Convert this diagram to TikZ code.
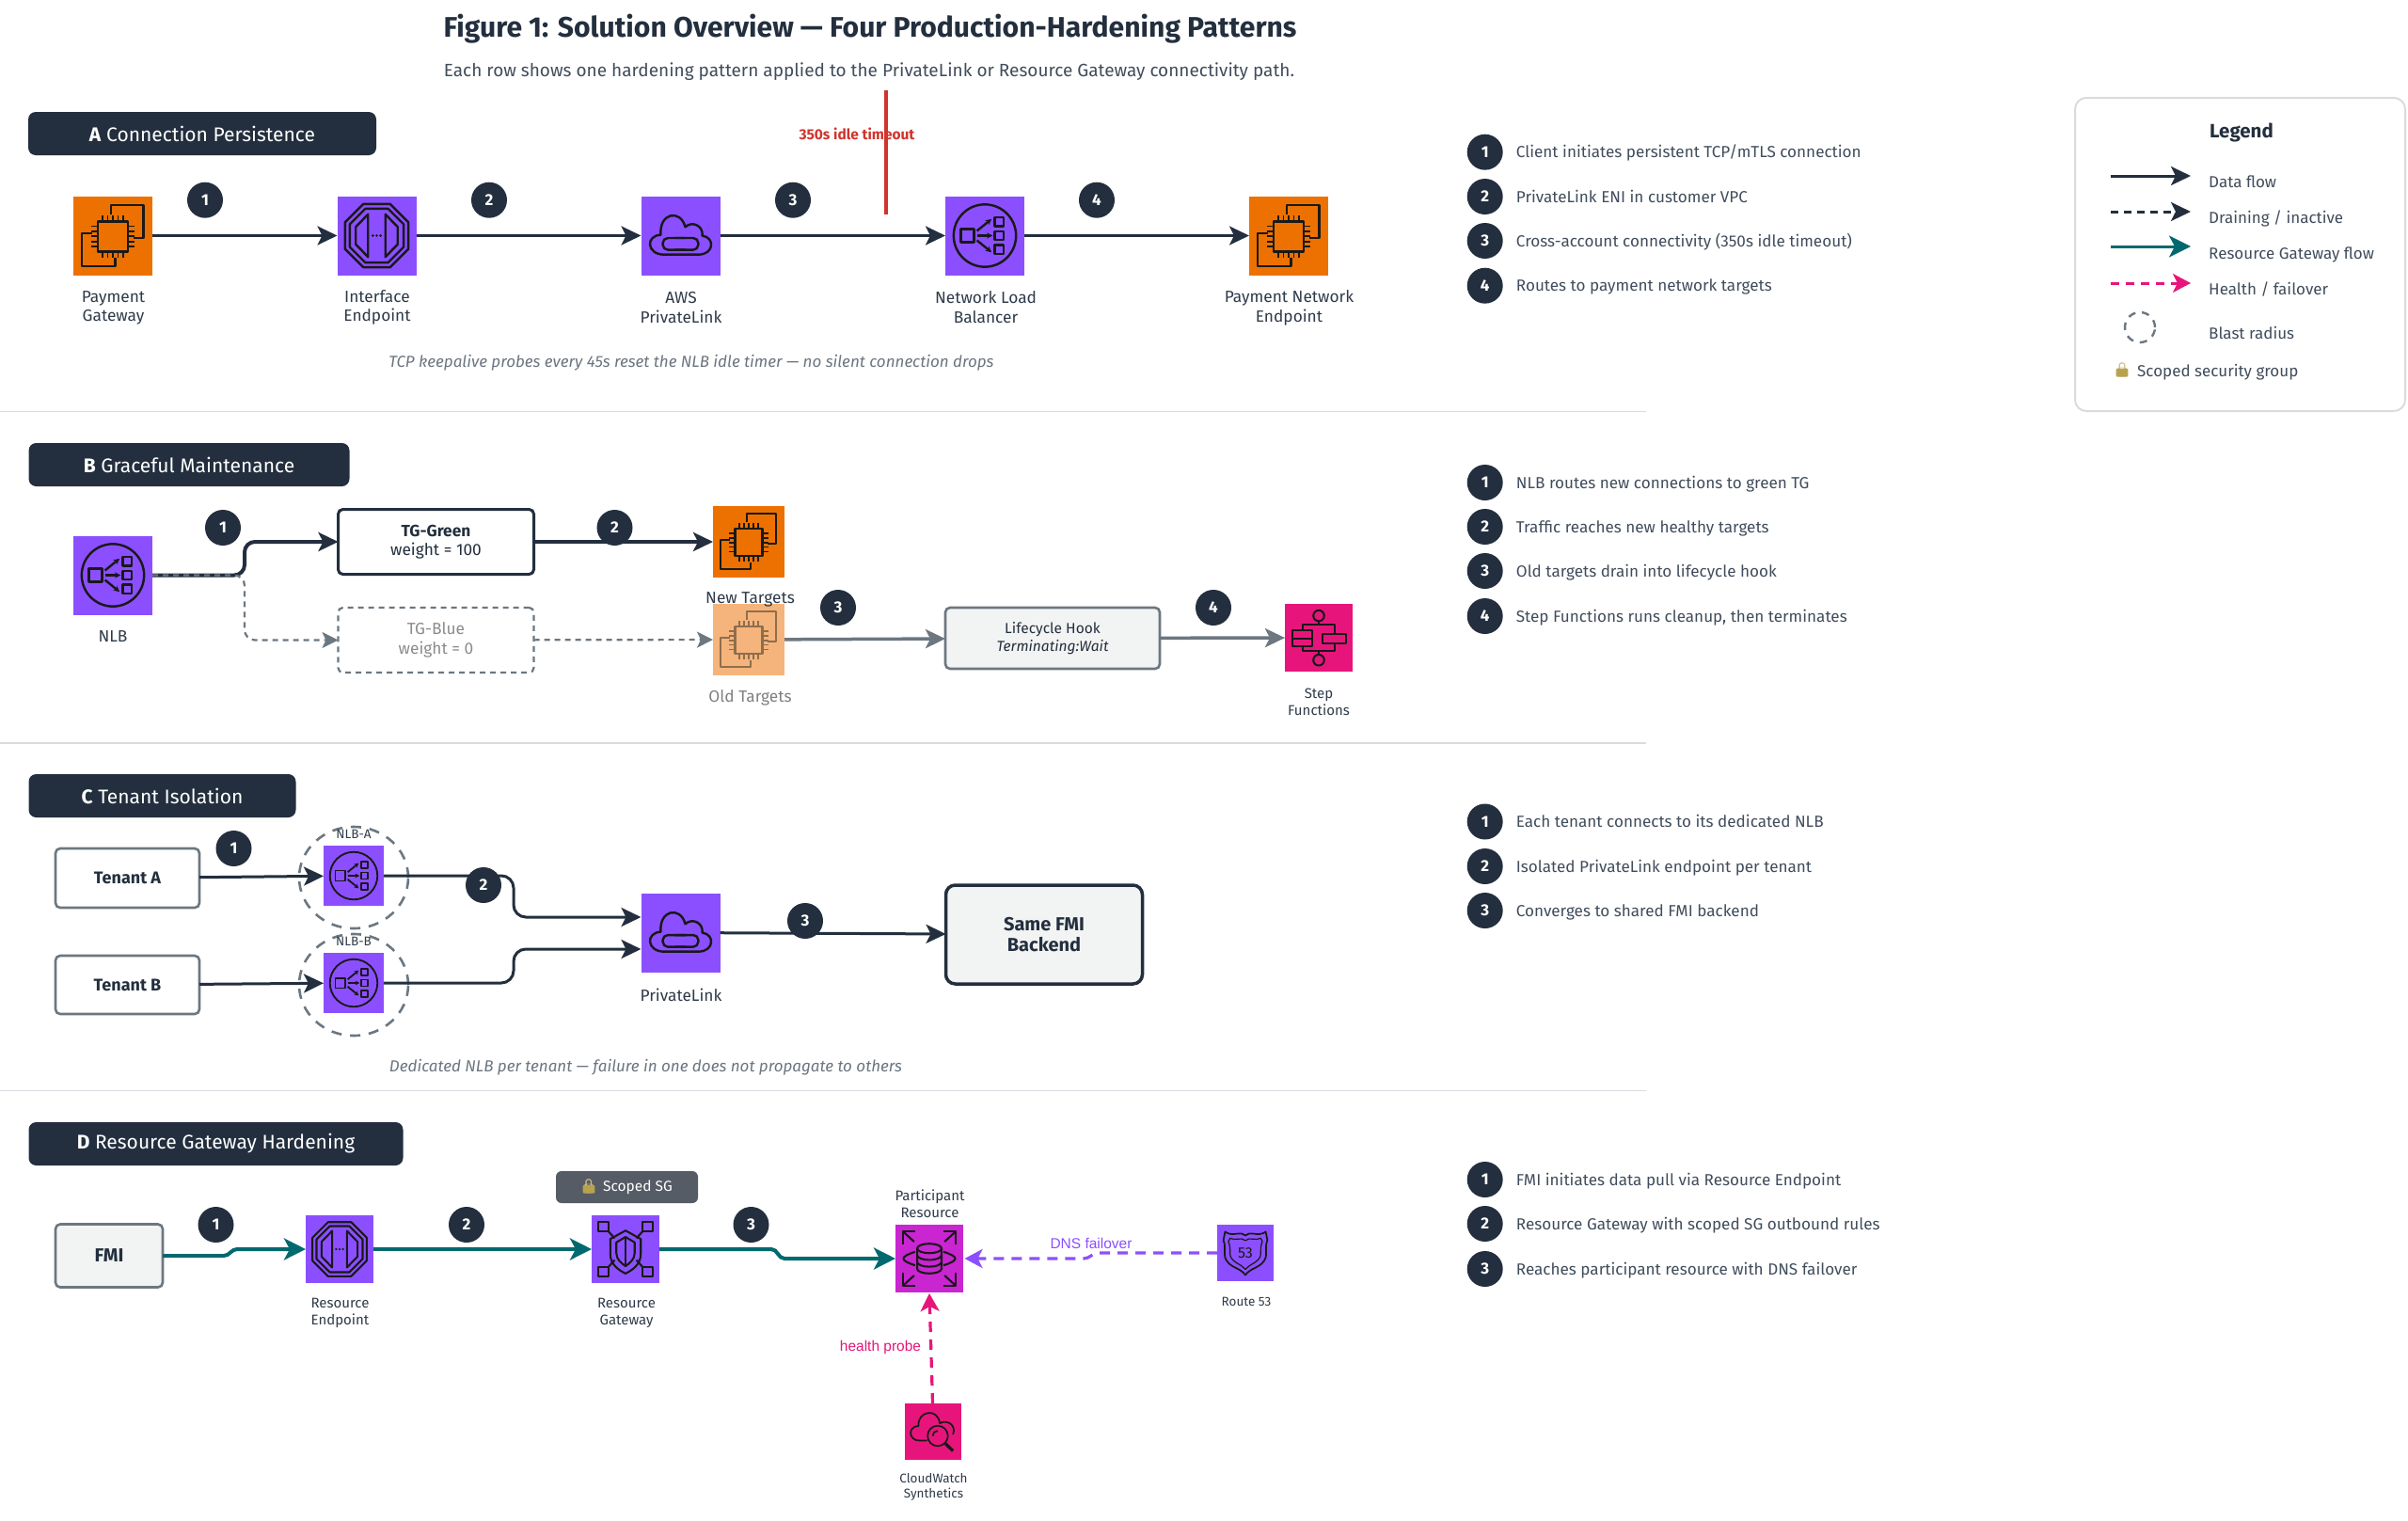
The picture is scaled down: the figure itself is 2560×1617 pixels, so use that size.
\documentclass[tikz,border=0pt]{standalone}
\usepackage{fontspec}
\setmainfont{Fira Sans}
\newfontfamily\emojifont{Noto Emoji}
\newfontfamily\helv{Liberation Sans}
\usetikzlibrary{arrows.meta,calc,shapes.geometric}
\definecolor{navy}{HTML}{232F3E}
\definecolor{awsorange}{HTML}{ED7100}
\definecolor{awspurple}{HTML}{8C4FFF}
\definecolor{awspink}{HTML}{E7157B}
\definecolor{awsmag}{HTML}{C925D1}
\definecolor{oldorange}{HTML}{F5B47C}
\definecolor{oldglyph}{HTML}{8F6E4C}
\definecolor{teal2}{HTML}{00696F}
\definecolor{txt}{HTML}{414D5C}
\definecolor{greyline}{HTML}{6C7780}
\definecolor{sep}{HTML}{D8DCE0}
\definecolor{boxfill}{HTML}{F2F3F3}
\definecolor{redline}{HTML}{D0342C}
\definecolor{capt}{HTML}{6B7580}
\definecolor{lockc}{HTML}{B9A24E}
\definecolor{sgfill}{HTML}{555C65}
\colorlet{glyphc}{black!90}
\newcommand{\fs}[2]{\fontsize{#1}{#2}\selectfont}
% ---------- icon glyphs, in a unit square with y downwards
\newcommand{\glec}{%
  \draw (-0.38,-0.36) rectangle (0.38,0.40);
  \foreach \t in {-0.26,-0.13,0,0.13,0.26}{
    \draw[line width=0.7*\lwv pt] (\t,-0.36) -- (\t,-0.52);
    \draw[line width=0.7*\lwv pt] (\t,0.40) -- (\t,0.56);
    \draw[line width=0.7*\lwv pt] (-0.38,\t+0.02) -- (-0.54,\t+0.02);
    \draw[line width=0.7*\lwv pt] (0.38,\t+0.02) -- (0.54,\t+0.02);}
  \draw (-0.05,-0.54) -- (-0.05,-0.78) -- (0.77,-0.78) -- (0.77,0.06) -- (0.53,0.06);
  \draw (-0.53,-0.06) -- (-0.79,-0.06) -- (-0.79,0.77) -- (0.06,0.77) -- (0.06,0.57);
}
\newcommand{\glep}{%
  \draw (-0.34,-0.8) -- (0.34,-0.8) -- (0.8,-0.34) -- (0.8,0.34) -- (0.34,0.8) -- (-0.34,0.8) -- (-0.8,0.34) -- (-0.8,-0.34) -- cycle;
  \draw (-0.29,-0.68) -- (0.29,-0.68) -- (0.68,-0.29) -- (0.68,0.29) -- (0.29,0.68) -- (-0.29,0.68) -- (-0.68,0.29) -- (-0.68,-0.29) -- cycle;
  \draw (-0.22,-0.54) -- (-0.22,0.54) -- (-0.53,0.22) -- (-0.53,-0.22) -- cycle;
  \draw (0.22,-0.54) -- (0.22,0.54) -- (0.53,0.22) -- (0.53,-0.22) -- cycle;
  \foreach \t in {-0.1,0,0.1}{\fill (\t,0) circle[radius=0.035];}
}
\newcommand{\glpl}{%
  \draw (-0.42,0.48) .. controls (-0.85,0.48) and (-0.9,0.0) .. (-0.5,-0.02)
    .. controls (-0.55,-0.58) and (0.0,-0.68) .. (0.12,-0.22)
    .. controls (0.3,-0.38) and (0.58,-0.25) .. (0.55,0.0)
    .. controls (0.88,0.05) and (0.85,0.48) .. (0.45,0.48) -- cycle;
  \draw[rounded corners=\rcv pt] (0.14,0.06) -- (-0.45,0.06) -- (-0.45,0.36) -- (0.14,0.36);
  \draw[rounded corners=\rcv pt] (-0.14,0.06) -- (0.45,0.06) -- (0.45,0.36) -- (-0.14,0.36);
}
\newcommand{\glnlb}{%
  \draw (0,0) circle[radius=0.79];
  \draw (-0.61,-0.17) rectangle (-0.27,0.17);
  \draw (0.25,-0.46) rectangle (0.47,-0.24);
  \draw (0.25,-0.11) rectangle (0.47,0.11);
  \draw (0.25,0.24) rectangle (0.47,0.46);
  \begin{scope}[>={Stealth[length=0pt 2.6 0,width=0pt 2.6 0]}]
  \draw[->] (-0.2,0) -- (0.2,0);
  \draw[->] (-0.2,-0.12) -- (0.17,-0.42);
  \draw[->] (-0.2,0.12) -- (0.17,0.42);
  \end{scope}
}
\newcommand{\glrg}{%
  \foreach \sx in {-1,1}{\foreach \sy in {-1,1}{
    \draw (\sx*0.5,\sy*0.52) rectangle (\sx*0.8,\sy*0.8);
    \draw (\sx*0.5,\sy*0.52) -- (\sx*0.32,\sy*0.32);}}
  \draw (0,-0.55) -- (0.45,-0.3) -- (0.45,0.15) .. controls (0.45,0.45) and (0.2,0.62) .. (0,0.72) .. controls (-0.2,0.62) and (-0.45,0.45) .. (-0.45,0.15) -- (-0.45,-0.3) -- cycle;
  \draw (0,-0.36) -- (0.27,-0.2) -- (0.27,0.12) .. controls (0.27,0.3) and (0.12,0.42) .. (0,0.5) .. controls (-0.12,0.42) and (-0.27,0.3) .. (-0.27,0.12) -- (-0.27,-0.2) -- cycle;
  \draw (0,-0.36) -- (0,0.5);
}
\newcommand{\glrds}{%
  \draw (-0.36,-0.3) -- (-0.36,0.3) arc[start angle=180,end angle=0,x radius=0.36,y radius=0.14] -- (0.36,-0.3);
  \draw (0,-0.3) ellipse[x radius=0.36,y radius=0.14];
  \draw (-0.36,-0.1) arc[start angle=180,end angle=0,x radius=0.36,y radius=0.14];
  \draw (-0.36,0.1) arc[start angle=180,end angle=0,x radius=0.36,y radius=0.14];
  \draw (-0.42,-0.2) .. controls (-0.88,-0.05) and (-0.88,0.05) .. (-0.42,0.2);
  \draw (0.42,-0.2) .. controls (0.88,-0.05) and (0.88,0.05) .. (0.42,0.2);
  \foreach \sx in {-1,1}{\foreach \sy in {-1,1}{
    \draw (\sx*0.45,\sy*0.5) -- (\sx*0.78,\sy*0.8);
    \draw (\sx*0.78,\sy*0.42) -- (\sx*0.78,\sy*0.8) -- (\sx*0.42,\sy*0.8);}}
}
\newcommand{\glroute}{%
  \draw (0,-0.62) .. controls (0.15,-0.8) and (0.45,-0.55) .. (0.72,-0.75)
    -- (0.78,-0.45) .. controls (0.62,-0.1) and (0.95,0.2) .. (0.4,0.5) .. controls (0.2,0.6) and (0.1,0.65) .. (0,0.78)
    .. controls (-0.1,0.65) and (-0.2,0.6) .. (-0.4,0.5) .. controls (-0.95,0.2) and (-0.62,-0.1) .. (-0.78,-0.45)
    -- (-0.72,-0.75) .. controls (-0.45,-0.55) and (-0.15,-0.8) .. (0,-0.62) -- cycle;
  \draw[line width=0.7*\lwv pt] (0,-0.44) .. controls (0.15,-0.58) and (0.35,-0.42) .. (0.55,-0.52)
    -- (0.6,-0.4) .. controls (0.45,-0.05) and (0.7,0.12) .. (0.3,0.36) .. controls (0.15,0.44) and (0.08,0.5) .. (0,0.58)
    .. controls (-0.08,0.5) and (-0.15,0.44) .. (-0.3,0.36) .. controls (-0.7,0.12) and (-0.45,-0.05) .. (-0.6,-0.4)
    -- (-0.55,-0.52) .. controls (-0.35,-0.42) and (-0.15,-0.58) .. (0,-0.44) -- cycle;
}
\newcommand{\glsf}{%
  \draw (0,-0.65) circle[radius=0.16];
  \draw (0,0.66) circle[radius=0.16];
  \draw (0,-0.49) -- (0,-0.39);
  \draw (0,0.5) -- (0,0.4);
  \draw (-0.47,-0.21) -- (-0.47,-0.39) -- (0.47,-0.39) -- (0.47,-0.12);
  \draw (-0.47,0.24) -- (-0.47,0.4) -- (0.47,0.4) -- (0.47,0.16);
  \draw (-0.78,-0.21) rectangle (-0.19,0.03);
  \draw (-0.78,0.03) rectangle (-0.19,0.24);
  \draw (0.11,-0.12) rectangle (0.8,0.16);
}
\newcommand{\glcw}{%
  \draw (-0.2,0.32) -- (-0.45,0.32) .. controls (-0.88,0.32) and (-0.88,-0.2) .. (-0.5,-0.2)
    .. controls (-0.55,-0.75) and (0.2,-0.85) .. (0.25,-0.3) .. controls (0.55,-0.45) and (0.85,-0.2) .. (0.72,0.1);
  \draw (0.18,0.15) circle[radius=0.36];
  \draw (0.18,0.15) ++(-0.18,0) arc[start angle=180,end angle=270,radius=0.18];
  \draw[line width=1.9*\lwv pt] (0.45,0.42) -- (0.72,0.68);
}
\newcommand{\icon}[3]{%
  \begin{scope}[shift={(#2.center)},x=#3pt,y=-#3pt,draw=glyphc,fill=glyphc]
    \pgfmathsetmacro{\lwv}{#3*0.058}\pgfmathsetmacro{\rcv}{#3*0.13}
    \begin{scope}[line width=\lwv pt,line join=round]
    \csname gl#1\endcsname
    \end{scope}
  \end{scope}}
% padlock body laid under the emoji
\newcommand{\lockbody}[1]{%
  \fill[lockc,rounded corners=1pt] ($(#1.center)+(-6.3,-1.2)$) rectangle ($(#1.center)+(6.3,7.6)$);}
% list rows
\newcommand{\listrow}[4]{%
  \node[badge] (#1b) at (1578.7,#2) {#3};
  \node[listtext] (#1t) at (1611.7,#2+6) {#4};}
\tikzset{
  iconbox/.style={rectangle,inner sep=0pt,outer sep=0pt,minimum size=#1},
  iconbox/.default=84pt,
  badge/.style={circle,fill=navy,text=white,inner sep=0pt,outer sep=0pt,minimum size=38pt,font=\fs{17}{20}\bfseries},
  listtext/.style={anchor=base west,inner sep=0pt,text=txt,font=\fs{17.1}{21}},
  lbl/.style={inner sep=0pt,align=center,text=navy!60!txt,font=\fs{17.3}{20.5}},
  smlbl/.style={inner sep=0pt,align=center,text=navy!60!txt,font=\fs{15}{18}},
  tinylbl/.style={inner sep=0pt,align=center,text=navy!60!txt,font=\fs{13.5}{16.5}},
  caption/.style={inner sep=0pt,text=capt,font=\fs{17}{20}\itshape},
  legtext/.style={inner sep=0pt,anchor=base west,text=txt,font=\fs{17}{20}},
  header/.style={rectangle,rounded corners=8pt,fill=navy,text=white,inner sep=0pt,outer sep=0pt,minimum height=46pt,font=\fs{21}{24}},
  sepline/.style={draw=sep,line width=1.8pt},
  flow/.style={draw=navy,line width=3pt,-{Stealth[length=21pt,width=20pt,inset=5pt]}},
  thickflow/.style={flow,line width=4pt},
  greyflow/.style={draw=greyline,line width=3.5pt,-{Stealth[length=21pt,width=20pt,inset=5pt]}},
  inactive/.style={draw=greyline,line width=2.2pt,dash pattern=on 6pt off 5pt,-{Stealth[length=17pt,width=17pt,inset=4pt]}},
  tealflow/.style={draw=teal2,line width=4pt,-{Stealth[length=23pt,width=23pt,inset=6pt]}},
  dnsflow/.style={draw=awspurple,line width=3.2pt,dash pattern=on 11pt off 8pt,-{Stealth[length=19pt,width=20pt,inset=5pt]}},
  healthflow/.style={draw=awspink,line width=3.2pt,dash pattern=on 11pt off 8pt,-{Stealth[length=19pt,width=20pt,inset=5pt]}},
  blast/.style={ellipse,draw=greyline,line width=2.6pt,dash pattern=on 11pt off 9pt,inner sep=0pt,outer sep=0pt,minimum width=116pt,minimum height=108pt},
  solidbox/.style={rectangle,rounded corners=5pt,inner sep=0pt,outer sep=0pt,align=center,text=navy},
}
\begin{document}
\begin{tikzpicture}[x=1pt,y=-1pt]
\useasboundingbox (0,0) rectangle (2560,1617);
\fill[white] (0,0) rectangle (2560,1617);

% title
\node[inner sep=0pt,text=navy,font=\fs{30.1}{34}\bfseries] (title) at (925,31) {Figure 1: Solution Overview — Four Production-Hardening Patterns};
\node[inner sep=0pt,text=txt,font=\fs{19}{24}] (subtitle) at (924,76) {Each row shows one hardening pattern applied to the PrivateLink or Resource Gateway connectivity path.};

% separators
\coordinate (s1a) at (0,437.5); \coordinate (s1b) at (1750,437.5);
\coordinate (s2a) at (0,790);   \coordinate (s2b) at (1750,790);
\coordinate (s3a) at (0,1159.5);\coordinate (s3b) at (1750,1159.5);
\draw[sepline] (s1a) -- (s1b);
\draw[sepline] (s2a) -- (s2b);
\draw[sepline] (s3a) -- (s3b);

% ===== A =====
\node[header,minimum width=370pt] (ha) at (215,142) {\textbf{A} Connection Persistence};
\node[iconbox,fill=awsorange] (pg) at (120,250.5) {};
\node[iconbox,fill=awspurple] (ie) at (400.5,250.5) {};
\node[iconbox,fill=awspurple] (apl) at (723.5,250.5) {};
\node[iconbox,fill=awspurple] (anlb) at (1047,250.5) {};
\node[iconbox,fill=awsorange] (pne) at (1370,250.5) {};
\icon{ec}{pg}{42}\icon{ep}{ie}{42}\icon{pl}{apl}{42}\icon{nlb}{anlb}{42}\icon{ec}{pne}{42}
\node[lbl] (lpg) at (120.5,327.5) {Payment\\Gateway};
\node[lbl] (lie) at (401,327) {Interface\\Endpoint};
\node[lbl] (lapl) at (724,327) {AWS\\PrivateLink};
\node[lbl] (lanlb) at (1048,326.5) {Network Load\\Balancer};
\node[lbl] (lpne) at (1370.5,327.5) {Payment Network\\Endpoint};
\draw[flow] (pg) -- (ie);
\draw[flow] (ie) -- (apl);
\draw[flow] (apl) -- (anlb);
\draw[flow] (anlb) -- (pne);
\node[badge] (a1) at (218,212.7) {1};
\node[badge] (a2) at (520,212.7) {2};
\node[badge] (a3) at (843,212.7) {3};
\node[badge] (a4) at (1166,212.7) {4};
\node[inner sep=0pt,text=redline,font=\fs{15.5}{18}\bfseries] (idle) at (911,142) {350s idle timeout};
\coordinate (r1) at (942,96); \coordinate (r2) at (942,228);
\draw[draw=redline,line width=3.5pt] (r1) -- (r2);
\node[caption] (capa) at (735,385.5) {TCP keepalive probes every 45s reset the NLB idle timer — no silent connection drops};

% ===== B =====
\node[header,minimum width=341pt] (hb) at (201,494) {\textbf{B} Graceful Maintenance};
\node[iconbox,fill=awspurple] (bnlb) at (120,611.5) {};
\icon{nlb}{bnlb}{42}
\node[lbl] (lbnlb) at (120,677) {NLB};
\node[solidbox,draw=navy,line width=3pt,fill=white,minimum width=208pt,minimum height=69pt,font=\fs{17.3}{20.5}] (tgg) at (463.5,576) {\textbf{TG-Green}\\weight = 100};
\node[solidbox,draw=greyline,line width=2.2pt,dash pattern=on 6pt off 5pt,fill=white,minimum width=208pt,minimum height=69pt,text=black!45,font=\fs{17.3}{20.5}] (tgb) at (463.5,680.5) {TG-Blue\\weight = 0};
\node[iconbox=76pt,fill=awsorange] (newt) at (796,576) {};
\node[iconbox=76pt,fill=oldorange] (oldt) at (796,680) {};
\icon{ec}{newt}{38}
\colorlet{glyphc}{oldglyph}
\icon{ec}{oldt}{38}
\colorlet{glyphc}{black!90}
\node[lbl] (lnewt) at (797.5,637) {New Targets};
\node[lbl,text=black!50] (loldt) at (797.5,742) {Old Targets};
\node[solidbox,draw=greyline,line width=2.6pt,fill=boxfill,minimum width=228pt,minimum height=65pt,font=\fs{15.5}{18.5}] (lh) at (1119,678.5) {Lifecycle Hook\\\textit{Terminating:Wait}};
\node[iconbox=72pt,fill=awspink] (sf) at (1402,678) {};
\icon{sf}{sf}{36}
\node[smlbl] (lsf) at (1402,746) {Step\\Functions};
\coordinate (eb) at (260,600);
\draw[thickflow,rounded corners=11pt] (bnlb.east) -| (eb|-tgg.west) -- (tgg.west);
\draw[inactive,rounded corners=11pt] (bnlb.east) -| (eb|-tgb.west) -- (tgb.west);
\draw[thickflow] (tgg) -- (newt);
\draw[inactive] (tgb) -- (oldt);
\draw[greyflow] (oldt) -- (lh);
\draw[greyflow] (lh) -- (sf);
\node[badge] (b1) at (237,561) {1};
\node[badge] (b2) at (653.5,561) {2};
\node[badge] (b3) at (891,646) {3};
\node[badge] (b4) at (1290,646) {4};

% ===== C =====
\node[header,minimum width=284pt] (hc) at (172.5,846) {\textbf{C} Tenant Isolation};
\node[solidbox,draw=greyline,line width=2.6pt,fill=white,minimum width=153pt,minimum height=63pt,font=\fs{18}{21}\bfseries] (ta) at (135.5,933.5) {Tenant A};
\node[solidbox,draw=greyline,line width=2.6pt,fill=white,minimum width=153pt,minimum height=62pt,font=\fs{18}{21}\bfseries] (tb) at (135.5,1047) {Tenant B};
\node[blast] (ba) at (376,933) {};
\node[blast] (bb) at (376,1047) {};
\node[iconbox=64pt,fill=awspurple] (na) at (376,931) {};
\node[iconbox=64pt,fill=awspurple] (nb) at (376,1045) {};
\icon{nlb}{na}{32}\icon{nlb}{nb}{32}
\node[tinylbl] (lna) at (376,887) {NLB-A};
\node[tinylbl] (lnb) at (376,1001) {NLB-B};
\node[iconbox,fill=awspurple] (cpl) at (723.5,991.5) {};
\icon{pl}{cpl}{42}
\node[lbl] (lcpl) at (724,1058) {PrivateLink};
\node[solidbox,rounded corners=10pt,draw=navy,line width=3.5pt,fill=boxfill,minimum width=209pt,minimum height=105pt,font=\fs{20}{22.5}\bfseries] (fmib) at (1110,993.5) {Same FMI\\Backend};
\coordinate (ec) at (546,990);
\coordinate (pa) at ($(cpl.west)+(0,-16.5)$);
\coordinate (pb) at ($(cpl.west)+(0,17.5)$);
\draw[flow] (ta) -- (na);
\draw[flow] (tb) -- (nb);
\draw[flow,rounded corners=13pt] (na.east) -| (ec|-pa) -- (pa);
\draw[flow,rounded corners=13pt] (nb.east) -| (ec|-pb) -- (pb);
\draw[flow] (cpl) -- (fmib);
\node[badge] (c1) at (248.5,902) {1};
\node[badge] (c2) at (514,941) {2};
\node[badge] (c3) at (856,979) {3};
\node[caption] (capc) at (686.5,1135) {Dedicated NLB per tenant — failure in one does not propagate to others};

% ===== D =====
\node[header,minimum width=398pt] (hd) at (229.5,1216) {\textbf{D} Resource Gateway Hardening};
\node[solidbox,draw=greyline,line width=2.6pt,fill=boxfill,minimum width=114pt,minimum height=67pt,font=\fs{20}{23}\bfseries] (fmi) at (116,1335) {FMI};
\node[iconbox=72pt,fill=awspurple] (re) at (361,1328) {};
\node[iconbox=72pt,fill=awspurple] (rg) at (665,1328) {};
\node[iconbox=72pt,fill=awsmag] (part) at (988,1338) {};
\node[iconbox=60pt,fill=awspurple] (r53) at (1324,1332) {};
\node[iconbox=60pt,fill=awspink] (cw) at (991.5,1522) {};
\icon{ep}{re}{36}\icon{rg}{rg}{36}\icon{rds}{part}{36}\icon{route}{r53}{30}\icon{cw}{cw}{30}
\node[inner sep=0pt,text=glyphc,font=\fs{16}{18}] (n53) at (r53.center) {53};
\node[smlbl] (lre) at (361.5,1396) {Resource\\Endpoint};
\node[smlbl] (lrg) at (666,1396) {Resource\\Gateway};
\node[smlbl] (lpart) at (988.5,1280) {Participant\\Resource};
\node[tinylbl] (lr53) at (1325,1384) {Route 53};
\node[tinylbl] (lcw) at (992.5,1581) {CloudWatch\\Synthetics};
\node[rectangle,rounded corners=6pt,fill=sgfill,inner sep=0pt,outer sep=0pt,minimum width=151pt,minimum height=34pt] (ssg) at (666.5,1262) {};
\node[inner sep=0pt,text=lockc!70!white,font=\emojifont\fs{15}{18}] (ssgl) at (626,1261) {🔒};
\begin{scope}[on background layer/.style={}]
\lockbody{ssgl}
\end{scope}
\node[inner sep=0pt,text=white,font=\fs{15.5}{18}] (ssgt) at (678,1262) {Scoped SG};
\coordinate (ed1a) at (238,1330); \coordinate (ed1b) at (252,1330);
\coordinate (ed2a) at (820,1330); \coordinate (ed2b) at (834,1330);
\coordinate (ed3a) at (1168,1335); \coordinate (ed3b) at (1152,1335);
\draw[tealflow] (fmi.east) -- (ed1a|-fmi.east) to[out=0,in=180] (ed1b|-re.west) -- (re.west);
\draw[tealflow] (re) -- (rg);
\draw[tealflow] (rg.east) -- (ed2a|-rg.east) to[out=0,in=180] (ed2b|-part.west) -- (part.west);
\draw[dnsflow,shorten >=1.5pt] (r53.west) -- (ed3a|-r53.west) to[out=180,in=0] (ed3b|-part.east) -- (part.east);
\draw[healthflow,shorten >=1pt] (cw.north) -- (part.south);
\node[inner sep=0pt,text=awspurple,font=\helv\fs{15.5}{18}] (ldns) at (1160,1322) {DNS failover};
\node[inner sep=0pt,text=awspink,font=\helv\fs{15.5}{18}] (lhp) at (936,1432) {health probe};
\node[badge] (d1) at (229.5,1302) {1};
\node[badge] (d2) at (496,1302) {2};
\node[badge] (d3) at (798.5,1302) {3};

% ===== lists =====
\listrow{la1}{161.7}{1}{Client initiates persistent TCP/mTLS connection}
\listrow{la2}{209}{2}{PrivateLink ENI in customer VPC}
\listrow{la3}{256}{3}{Cross-account connectivity (350s idle timeout)}
\listrow{la4}{303.7}{4}{Routes to payment network targets}
\listrow{lb1}{513}{1}{NLB routes new connections to green TG}
\listrow{lb2}{560}{2}{Traffic reaches new healthy targets}
\listrow{lb3}{607}{3}{Old targets drain into lifecycle hook}
\listrow{lb4}{655}{4}{Step Functions runs cleanup, then terminates}
\listrow{lc1}{873.5}{1}{Each tenant connects to its dedicated NLB}
\listrow{lc2}{921}{2}{Isolated PrivateLink endpoint per tenant}
\listrow{lc3}{968}{3}{Converges to shared FMI backend}
\listrow{ld1}{1254}{1}{FMI initiates data pull via Resource Endpoint}
\listrow{ld2}{1301}{2}{Resource Gateway with scoped SG outbound rules}
\listrow{ld3}{1349}{3}{Reaches participant resource with DNS failover}

% ===== legend =====
\node[rectangle,rounded corners=12pt,draw=sep,line width=2pt,fill=white,inner sep=0pt,outer sep=0pt,minimum width=351pt,minimum height=333pt] (legend) at (2381.5,270.5) {};
\node[inner sep=0pt,text=navy,font=\fs{20.5}{24}\bfseries] (legt) at (2383,140.5) {Legend};
\coordinate (k1a) at (2244,187); \coordinate (k1b) at (2329,187);
\coordinate (k2a) at (2244,225); \coordinate (k2b) at (2329,225);
\coordinate (k3a) at (2244,262); \coordinate (k3b) at (2329,262);
\coordinate (k4a) at (2244,301); \coordinate (k4b) at (2329,301);
\draw[flow] (k1a) -- (k1b);
\draw[flow,dash pattern=on 8pt off 6pt] (k2a) -- (k2b);
\draw[tealflow,line width=3pt] (k3a) -- (k3b);
\draw[healthflow,line width=3pt,dash pattern=on 9pt off 7pt] (k4a) -- (k4b);
\node[legtext] (k1t) at (2348,199.5) {Data flow};
\node[legtext] (k2t) at (2348,237.5) {Draining / inactive};
\node[legtext] (k3t) at (2348,275.5) {Resource Gateway flow};
\node[legtext] (k4t) at (2348,313.5) {Health / failover};
\node[circle,draw=greyline,line width=2.4pt,dash pattern=on 8pt off 7pt,inner sep=0pt,outer sep=0pt,minimum size=32pt] (k5) at (2275,348) {};
\node[legtext] (k5t) at (2348,360) {Blast radius};
\node[inner sep=0pt,text=lockc!70!white,font=\emojifont\fs{15}{18}] (k6) at (2256,393) {🔒};
\lockbody{k6}
\node[legtext] (k6t) at (2272,400) {Scoped security group};
\end{tikzpicture}
\end{document}
